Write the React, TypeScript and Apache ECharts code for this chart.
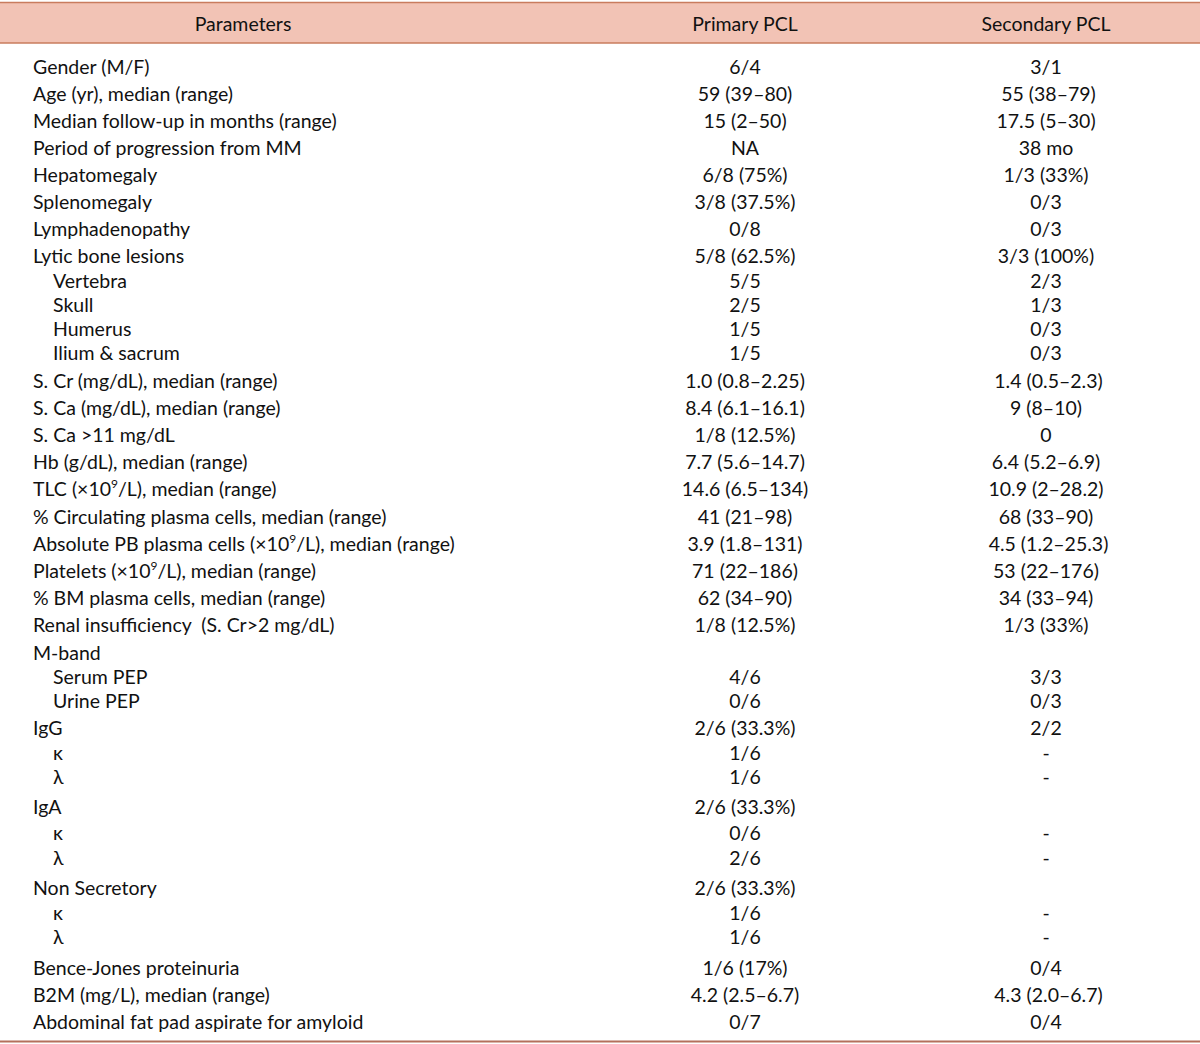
import React, { useEffect, useRef } from "react";
import * as echarts from "echarts";

// ---- table data ----
const HEADERS = ["Parameters", "Primary PCL", "Secondary PCL"];

const PARAMS = [
  "Gender (M/F)",
  "Age (yr), median (range)",
  "Median follow-up in months (range)",
  "Period of progression from MM",
  "Hepatomegaly",
  "Splenomegaly",
  "Lymphadenopathy",
  "Lytic bone lesions",
  "Vertebra",
  "Skull",
  "Humerus",
  "Ilium & sacrum",
  "S. Cr (mg/dL), median (range)",
  "S. Ca (mg/dL), median (range)",
  "S. Ca >11 mg/dL",
  "Hb (g/dL), median (range)",
  "TLC (×10^9/L), median (range)",
  "% Circulating plasma cells, median (range)",
  "Absolute PB plasma cells (×10^9/L), median (range)",
  "Platelets (×10^9/L), median (range)",
  "% BM plasma cells, median (range)",
  "Renal insufficiency  (S. Cr>2 mg/dL)",
  "M-band",
  "Serum PEP",
  "Urine PEP",
  "IgG",
  "κ",
  "λ",
  "IgA",
  "κ",
  "λ",
  "Non Secretory",
  "κ",
  "λ",
  "Bence-Jones proteinuria",
  "B2M (mg/L), median (range)",
  "Abdominal fat pad aspirate for amyloid",
];

const LEVEL = [
  0, 0, 0, 0, 0, 0, 0, 0, 1, 1, 1, 1, 0, 0, 0, 0, 0, 0, 0, 0, 0, 0, 0, 1, 1,
  0, 1, 1, 0, 1, 1, 0, 1, 1, 0, 0, 0,
];

const PRIMARY = [
  "6/4",
  "59 (39–80)",
  "15 (2–50)",
  "NA",
  "6/8 (75%)",
  "3/8 (37.5%)",
  "0/8",
  "5/8 (62.5%)",
  "5/5",
  "2/5",
  "1/5",
  "1/5",
  "1.0 (0.8–2.25)",
  "8.4 (6.1–16.1)",
  "1/8 (12.5%)",
  "7.7 (5.6–14.7)",
  "14.6 (6.5–134)",
  "41 (21–98)",
  "3.9 (1.8–131)",
  "71 (22–186)",
  "62 (34–90)",
  "1/8 (12.5%)",
  "",
  "4/6",
  "0/6",
  "2/6 (33.3%)",
  "1/6",
  "1/6",
  "2/6 (33.3%)",
  "0/6",
  "2/6",
  "2/6 (33.3%)",
  "1/6",
  "1/6",
  "1/6 (17%)",
  "4.2 (2.5–6.7)",
  "0/7",
];

const SECONDARY = [
  "3/1",
  " 55 (38–79)",
  "17.5 (5–30)",
  "38 mo",
  "1/3 (33%)",
  "0/3",
  "0/3",
  "3/3 (100%)",
  "2/3",
  "1/3",
  "0/3",
  "0/3",
  " 1.4 (0.5–2.3)",
  "9 (8–10)",
  "0",
  "6.4 (5.2–6.9)",
  "10.9 (2–28.2)",
  "68 (33–90)",
  " 4.5 (1.2–25.3)",
  "53 (22–176)",
  "34 (33–94)",
  "1/3 (33%)",
  "",
  "3/3",
  "0/3",
  "2/2",
  "-",
  "-",
  "",
  "-",
  "-",
  "",
  "-",
  "-",
  "0/4",
  " 4.3 (2.0–6.7)",
  "0/4",
];

// ---- layout (not data) ----
const ROW_GAPS = [
  0, 27, 27, 27, 27, 27, 27, 27, 25, 24, 24, 24, 28, 27, 27, 27, 27, 28, 27,
  27, 27, 27, 28, 24, 24, 27, 25, 24, 30, 26, 25, 30, 25, 24, 31, 27, 27,
];
const FIRST_ROW_Y = 66;
const COL_X = [33, 745, 1046];
const INDENT_PX = 20;
const FONT = "Lato, 'Open Sans', sans-serif";
const FS = 19.5;
const TEXT_COLOR = "#111111";

function richLabel(label: string) {
  if (label.indexOf("^9") < 0) return { text: label, rich: undefined };
  const parts = label.split("^9");
  let t = "";
  parts.forEach((p, i) => {
    if (p) t += "{a|" + p + "}";
    if (i < parts.length - 1) t += "{s|9}";
  });
  return {
    text: t,
    rich: {
      a: { fontSize: FS, fontFamily: FONT, fill: TEXT_COLOR, lineHeight: 22 },
      s: {
        fontSize: 12,
        fontFamily: FONT,
        fill: TEXT_COLOR,
        lineHeight: 22,
        verticalAlign: "top",
        padding: [0, 0, 0, 0],
      },
    },
  };
}

function textEl(text: string, x: number, y: number, align: string, rich?: any) {
  const style: any = {
    text,
    x: 0,
    y: 0,
    fill: TEXT_COLOR,
    font: `${FS}px ${FONT}`,
    fontSize: FS,
    fontFamily: FONT,
    textAlign: align,
    align,
    textVerticalAlign: "middle",
    verticalAlign: "middle",
  };
  if (rich) style.rich = rich;
  return { type: "text", x, y, silent: true, style };
}

export default function App() {
  const ref = useRef<HTMLDivElement>(null);
  useEffect(() => {
    if (!ref.current) return;
    const chart = echarts.init(ref.current, undefined, { renderer: "svg" });
    const els: any[] = [];
    // header band
    els.push({
      type: "rect",
      shape: { x: 0, y: 2, width: 1200, height: 41 },
      style: { fill: "#f2c3b5" },
      silent: true,
    });
    els.push({
      type: "line",
      shape: { x1: 0, y1: 2.5, x2: 1200, y2: 2.5 },
      style: { stroke: "#c97c5e", lineWidth: 1.5 },
      silent: true,
    });
    els.push({
      type: "line",
      shape: { x1: 0, y1: 43, x2: 1200, y2: 43 },
      style: { stroke: "#c97c5e", lineWidth: 1.5 },
      silent: true,
    });
    els.push({
      type: "line",
      shape: { x1: 0, y1: 1041.5, x2: 1200, y2: 1041.5 },
      style: { stroke: "#b4705c", lineWidth: 2 },
      silent: true,
    });
    // headers
    const HEADER_X = [243, 745, 1046];
    HEADERS.forEach((h, i) => {
      els.push(textEl(h, HEADER_X[i], 23, "center"));
    });
    // rows
    let y = FIRST_ROW_Y;
    PARAMS.forEach((p, i) => {
      y += ROW_GAPS[i];
      const r = richLabel(p);
      els.push(textEl(r.text, COL_X[0] + LEVEL[i] * INDENT_PX, y, "left", r.rich));
      if (PRIMARY[i]) els.push(textEl(PRIMARY[i], COL_X[1], y, "center"));
      if (SECONDARY[i]) els.push(textEl(SECONDARY[i], COL_X[2], y, "center"));
    });
    chart.setOption({
      animation: false,
      backgroundColor: "#ffffff",
      graphic: { elements: els },
    });
    return () => chart.dispose();
  }, []);
  return (
    <div
      ref={ref}
      style={{ position: "fixed", left: 0, top: 0, width: 1200, height: 1044 }}
    />
  );
}
